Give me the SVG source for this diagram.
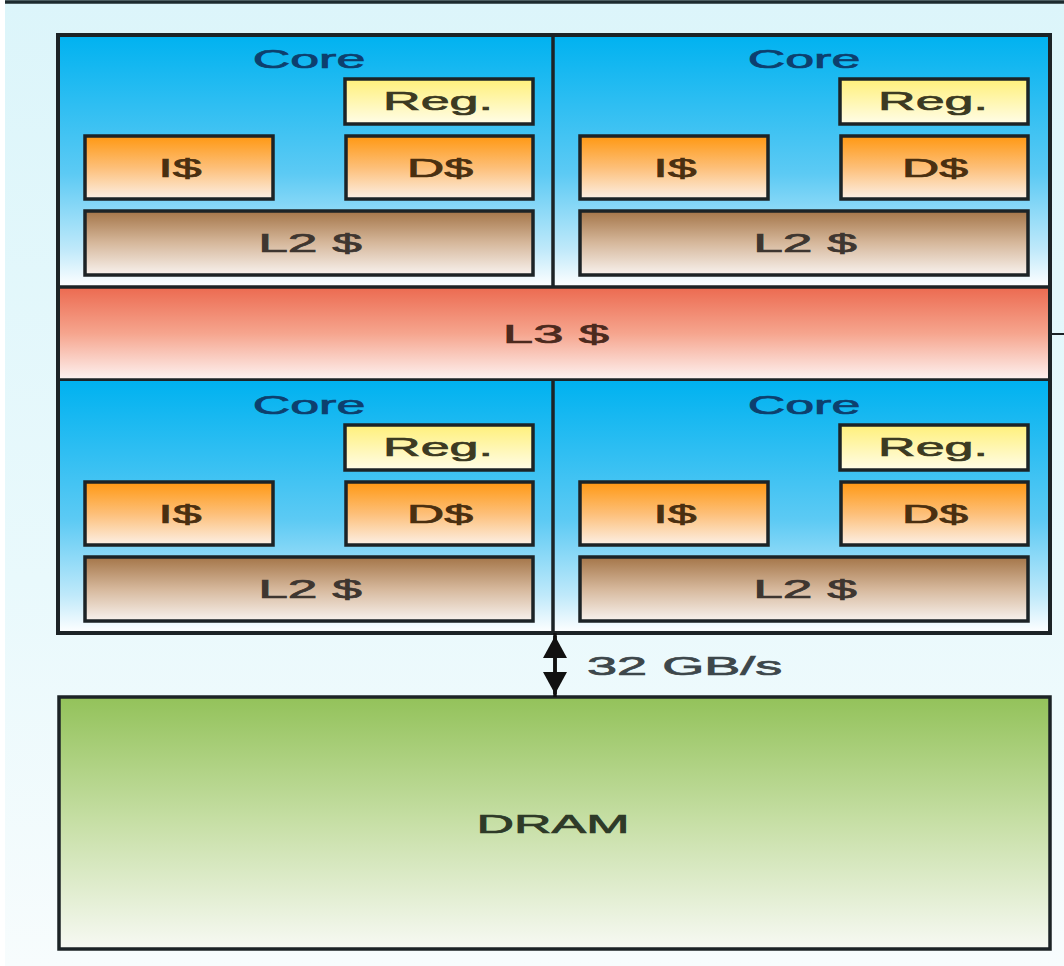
<svg xmlns="http://www.w3.org/2000/svg" width="1064" height="966" viewBox="0 0 1064 966">
  <defs>
    <linearGradient id="gBg" x1="0" y1="0" x2="0" y2="1">
      <stop offset="0" stop-color="#dcf5fa"/>
      <stop offset="0.6" stop-color="#e9f9fc"/>
      <stop offset="1" stop-color="#f7fcfd"/>
    </linearGradient>
    <linearGradient id="gCore" x1="0" y1="0" x2="0" y2="1">
      <stop offset="0" stop-color="#00b2f0"/>
      <stop offset="0.55" stop-color="#5ccaf4"/>
      <stop offset="0.85" stop-color="#bfe9fa"/>
      <stop offset="1" stop-color="#ffffff"/>
    </linearGradient>
    <linearGradient id="gReg" x1="0" y1="0" x2="0" y2="1">
      <stop offset="0" stop-color="#fff07a"/>
      <stop offset="1" stop-color="#fffde8"/>
    </linearGradient>
    <linearGradient id="gL1" x1="0" y1="0" x2="0" y2="1">
      <stop offset="0" stop-color="#ff9812"/>
      <stop offset="0.5" stop-color="#fdbf78"/>
      <stop offset="1" stop-color="#fcf0e6"/>
    </linearGradient>
    <linearGradient id="gL2" x1="0" y1="0" x2="0" y2="1">
      <stop offset="0" stop-color="#a47548"/>
      <stop offset="0.5" stop-color="#d6b89c"/>
      <stop offset="1" stop-color="#f8f2ee"/>
    </linearGradient>
    <linearGradient id="gL3" x1="0" y1="0" x2="0" y2="1">
      <stop offset="0" stop-color="#ec6a50"/>
      <stop offset="0.5" stop-color="#f6a58e"/>
      <stop offset="1" stop-color="#fdf3f2"/>
    </linearGradient>
    <linearGradient id="gDram" x1="0" y1="0" x2="0" y2="1">
      <stop offset="0" stop-color="#93c25a"/>
      <stop offset="0.5" stop-color="#c7dfa6"/>
      <stop offset="1" stop-color="#f7f9f3"/>
    </linearGradient>
    <marker id="arrow" viewBox="0 0 10 10" refX="10" refY="5" markerWidth="22" markerHeight="24" markerUnits="userSpaceOnUse" orient="auto-start-reverse" preserveAspectRatio="none">
      <path d="M0,0 L10,5 L0,10 z" fill="#111"/>
    </marker>
    <style>
      .box { stroke: #1c2326; stroke-width: 3.5; }
      .outer { fill: none; stroke: #1c2326; stroke-width: 4; }
      text { font-family: "Liberation Sans", Arial, sans-serif; font-size: 26px; text-anchor: middle; stroke-width: 0.7; }
      .core-t { fill: #0d3f6e; stroke: #0d3f6e; }
      .reg-t { fill: #3c3a22; stroke: #3c3a22; }
      .l1-t { fill: #4a2f10; stroke: #4a2f10; }
      .l2-t { fill: #3e3630; stroke: #3e3630; }
      .l3-t { fill: #4c2a1e; stroke: #4c2a1e; }
      .dram-t { fill: #2e3a28; stroke: #2e3a28; }
      .bw-t { fill: #3d474b; stroke: #3d474b; text-anchor: start; }
    </style>
    <!-- one processor core: Reg., I$, D$, private L2 (labels drawn wide, 2:1) -->
    <g id="coreTpl">
      <rect x="0" y="0" width="495" height="252" fill="url(#gCore)"/>
      <text transform="translate(251 33) scale(2 1)" class="core-t">Core</text>
      <rect x="287" y="44" width="188" height="45" fill="url(#gReg)" class="box"/>
      <text transform="translate(380 75) scale(2 1)" class="reg-t">Reg.</text>
      <rect x="27" y="101" width="188" height="63" fill="url(#gL1)" class="box"/>
      <text transform="translate(122 142) scale(2 1)" class="l1-t">I$</text>
      <rect x="288" y="101" width="187" height="63" fill="url(#gL1)" class="box"/>
      <text transform="translate(382 142) scale(2 1)" class="l1-t">D$</text>
      <rect x="27" y="176" width="448" height="64" fill="url(#gL2)" class="box"/>
      <text transform="translate(252 217) scale(2.05 1)" class="l2-t">L2 $</text>
    </g>
  </defs>

  <!-- page background -->
  <rect x="0" y="0" width="1064" height="966" fill="url(#gBg)"/>
  <rect x="0" y="0" width="5" height="966" fill="#ffffff"/>
  <line x1="5" y1="2" x2="1064" y2="2" stroke="#1c2a2e" stroke-width="3.5"/>

  <g id="core0"><use href="#coreTpl" x="58" y="35"/></g>
  <g id="core1"><use href="#coreTpl" x="553" y="35"/></g>

  <g id="l3">
    <rect x="58" y="287" width="992" height="93" fill="url(#gL3)" class="box"/>
    <text transform="translate(556 343) scale(2.1 1)" class="l3-t">L3 $</text>
  </g>

  <g id="core2"><use href="#coreTpl" x="58" y="381"/></g>
  <g id="core3"><use href="#coreTpl" x="553" y="381"/></g>

  <g id="chip">
    <rect x="58" y="35" width="992" height="598" class="outer"/>
    <line x1="553" y1="35" x2="553" y2="287" stroke="#1c2326" stroke-width="3.5"/>
    <line x1="553" y1="380" x2="553" y2="633" stroke="#1c2326" stroke-width="3.5"/>
  </g>

  <g id="dram">
    <rect x="59" y="697" width="991" height="252" fill="url(#gDram)" class="box"/>
    <text transform="translate(553 833) scale(2 1)" class="dram-t">DRAM</text>
  </g>

  <g id="connectors">
    <line x1="555" y1="633" x2="555" y2="697" stroke="#111" stroke-width="3.5"/>
    <line x1="555" y1="657" x2="555" y2="636" stroke="#111" stroke-width="3.5" marker-end="url(#arrow)"/>
    <line x1="555" y1="657" x2="555" y2="694" stroke="#111" stroke-width="3.5" marker-end="url(#arrow)"/>
    <text transform="translate(587 675) scale(2.08 1)" class="bw-t">32 GB/s</text>
    <line x1="1050" y1="334" x2="1064" y2="334" stroke="#1c2326" stroke-width="2"/>
  </g>
</svg>
